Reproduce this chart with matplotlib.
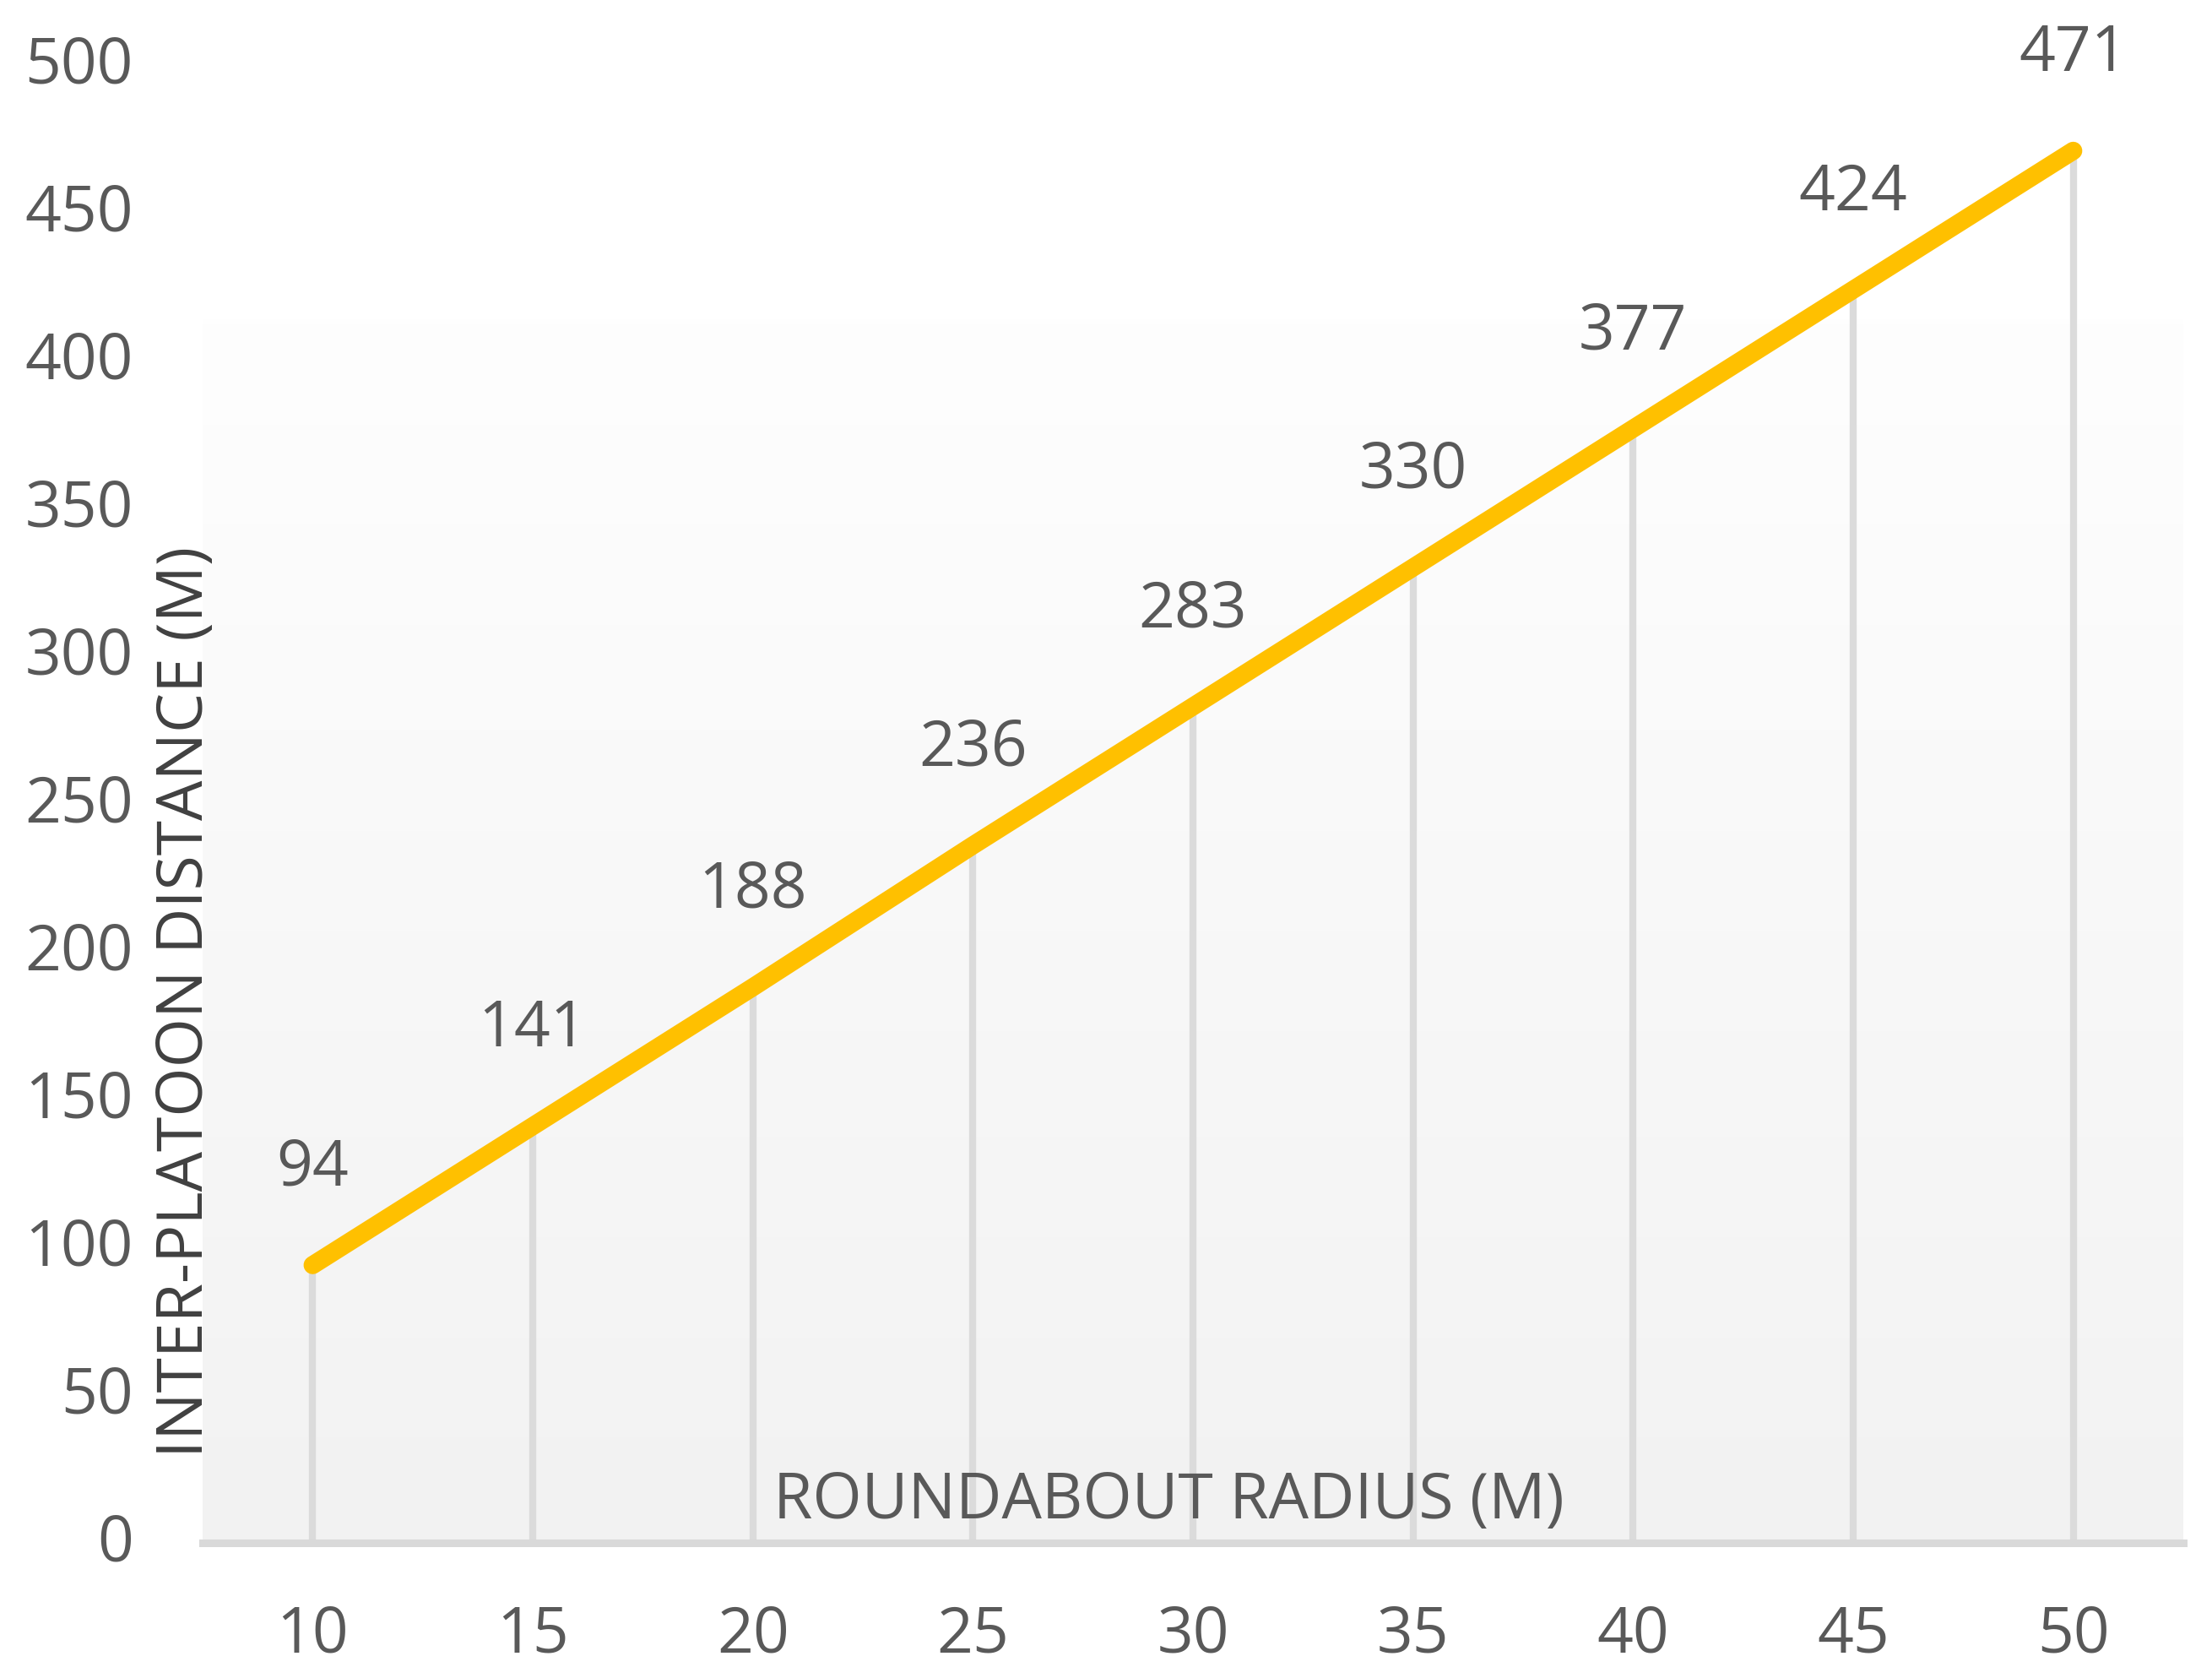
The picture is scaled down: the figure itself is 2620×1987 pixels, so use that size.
import numpy as np
import matplotlib
matplotlib.use("Agg")
import matplotlib.pyplot as plt
from matplotlib.colors import LinearSegmentedColormap
from matplotlib.transforms import ScaledTranslation

plt.rcParams["font.family"] = ["Open Sans", "DejaVu Sans"]

# data
radius = [10, 15, 20, 25, 30, 35, 40, 45, 50]
distance = [94, 141, 188, 236, 283, 330, 377, 424, 471]
y_ticks = [0, 50, 100, 150, 200, 250, 300, 350, 400, 450, 500]

line_color = "#FFC000"
grid_color = "#d9d9d9"
text_color = "#595959"

fig = plt.figure(figsize=(26.2, 19.87), dpi=100)
ax = fig.add_axes([0.0916, 0.0805, 0.8954, 0.8807])

xs = np.arange(len(radius))
ax.set_xlim(-0.5, len(radius) - 0.5)
ax.set_ylim(0, 500)

# plot area gradient (white -> light grey), starts a bit below the top
cmap = LinearSegmentedColormap.from_list("bg", ["#f2f2f2", "#fefefe"])
grad = np.linspace(0, 1, 256).reshape(-1, 1)
ax.imshow(grad, cmap=cmap, origin="lower", aspect="auto",
          extent=[-0.5, len(radius) - 0.5, 0, 414], zorder=0)

# drop lines
ax.vlines(xs, 0, distance, color="#dbdbdb", linewidth=6, zorder=1)

# main line
ax.plot(xs, distance, color=line_color, linewidth=15.5,
        solid_capstyle="round", zorder=3)

# data labels
for x, v in zip(xs, distance):
    ax.annotate(str(v), (x, v), xytext=(0, 68), textcoords="offset points",
                ha="center", va="baseline", fontsize=54, color=text_color)

ax.set_xticks(xs)
ax.set_xticklabels([str(r) for r in radius])
ax.set_yticks(y_ticks)
ax.tick_params(axis="both", length=0, labelsize=54, labelcolor=text_color)
ax.tick_params(axis="x", pad=52)
ax.tick_params(axis="y", pad=59)

# nudge y tick labels up a little
shift = ScaledTranslation(0, 5 / 72, fig.dpi_scale_trans)
for lab in ax.get_yticklabels():
    lab.set_transform(lab.get_transform() + shift)

for side in ["top", "right", "left"]:
    ax.spines[side].set_visible(False)
ax.spines["bottom"].set_color(grid_color)
ax.spines["bottom"].set_linewidth(6.5)
ax.spines["bottom"].set_zorder(2)

ax.text(0.4876, 0.0166, "ROUNDABOUT RADIUS (M)", transform=ax.transAxes,
        ha="center", va="baseline", fontsize=54, color=text_color, zorder=4)
ax.text(-0.0085, 0.366, "INTER-PLATOON DISTANCE (M)", transform=ax.transAxes,
        rotation=90, ha="center", va="center", fontsize=54, color="#404040",
        zorder=4)

fig.savefig("out.png", dpi=100, facecolor="white")
